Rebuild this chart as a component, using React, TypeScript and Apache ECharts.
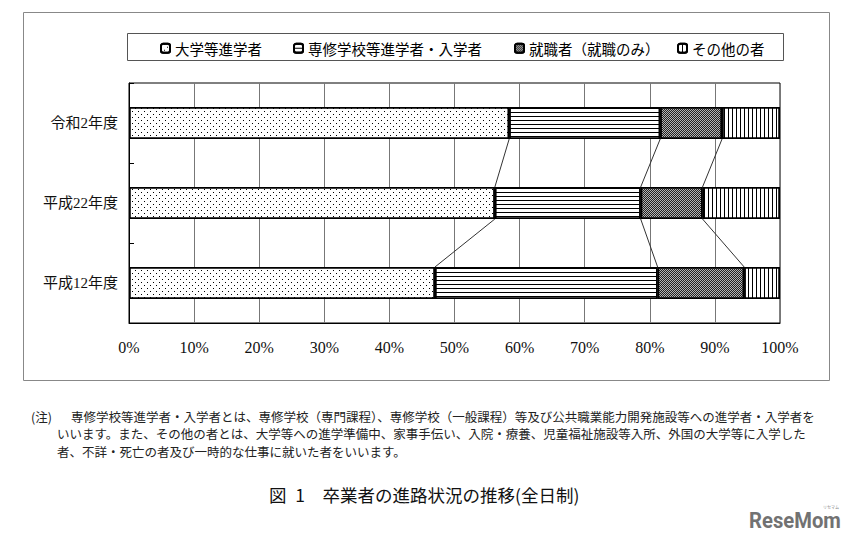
import React, { useEffect, useRef } from "react";
import * as echarts from "echarts";

const categories = ["令和2年度", "平成22年度", "平成12年度"];
const seriesNames = ["大学等進学者", "専修学校等進学者・入学者", "就職者（就職のみ）", "その他の者"];
const university = [58.4, 56.2, 47.0];
const vocational = [23.2, 22.4, 34.2];
const employed = [9.5, 9.5, 13.3];
const others = [8.9, 11.9, 5.5];
const xTickValues = [0, 10, 20, 30, 40, 50, 60, 70, 80, 90, 100];

const noteLabel = "(注)";
const noteLines = [
  "専修学校等進学者・入学者とは、専修学校（専門課程）、専修学校（一般課程）等及び公共職業能力開発施設等への進学者・入学者を",
  "いいます。また、その他の者とは、大学等への進学準備中、家事手伝い、入院・療養、児童福祉施設等入所、外国の大学等に入学した",
  "者、不詳・死亡の者及び一時的な仕事に就いた者をいいます。",
];
const titleText = "図\u20021　卒業者の進路状況の推移(全日制)";

const BAR_W = 32;
const CJK = '"Noto Sans CJK JP", "Noto Sans", sans-serif';
const SERIF_CJK = '"Liberation Serif", "DejaVu Serif", "Noto Sans CJK JP", serif';

const decals: any[] = [
  { symbol: "rect", symbolSize: 1, color: "#000", backgroundColor: "#fff", dashArrayX: [[1, 5], [0, 3, 1, 2]], dashArrayY: [1, 2] },
  { symbol: "rect", symbolSize: 1, color: "#000", backgroundColor: "#fff", dashArrayX: [1, 0], dashArrayY: [1, 3] },
  { symbol: "rect", symbolSize: 1, color: "#222", backgroundColor: "#b4b4b4", dashArrayX: [[1, 1], [0, 1, 1, 0]], dashArrayY: [1, 0] },
  { symbol: "rect", symbolSize: 1, color: "#000", backgroundColor: "#fff", dashArrayX: [1, 3], dashArrayY: [1, 0] },
];
const legendLefts = [155, 288, 509, 672];

export default function App() {
  const ref = useRef<HTMLDivElement>(null);
  useEffect(() => {
    if (!ref.current) return;
    const chart = echarts.init(ref.current, null, { renderer: "svg" });
    const valueSets = [university, vocational, employed, others];
    // cumulative boundaries for connector lines
    const cums = categories.map((_, i) => {
      let s = 0;
      return valueSets.map((vs) => (s += vs[i]));
    });
    const connectors: any[] = [];
    for (let i = 0; i < categories.length - 1; i++) {
      for (let k = 0; k < 3; k++) {
        connectors.push([cums[i][k], i, cums[i + 1][k], i + 1]);
      }
    }
    const barSeries = seriesNames.map((name, idx) => ({
      name,
      type: "bar",
      stack: "total",
      barWidth: BAR_W,
      data: valueSets[idx],
      itemStyle: {
        color: decals[idx].backgroundColor,
        borderColor: "#000",
        borderWidth: 1.5,
        decal: decals[idx],
      },
      emphasis: { disabled: true },
    }));
    chart.setOption({
      animation: false,
      backgroundColor: "#fff",
      legend: seriesNames.map((name, idx) => ({
        data: [name],
        left: legendLefts[idx],
        top: 36,
        itemWidth: 9,
        itemHeight: 9,
        selectedMode: false,
        textStyle: { fontSize: 14.5, fontFamily: CJK, color: "#000" },
      })),
      grid: { left: 129, top: 83, width: 651, height: 240, show: true, borderColor: "#000", borderWidth: 1 },
      xAxis: {
        type: "value",
        min: 0,
        max: 100,
        interval: 10,
        axisLine: { show: true, lineStyle: { color: "#000", width: 1 } },
        axisTick: { show: false },
        splitLine: { show: true, lineStyle: { color: "#777", width: 1 } },
        axisLabel: {
          formatter: (v: number) => (xTickValues.includes(v) ? v + "%" : ""),
          fontSize: 16,
          fontFamily: SERIF_CJK,
          color: "#111",
          margin: 16,
        },
      },
      yAxis: {
        type: "category",
        inverse: true,
        data: categories,
        axisLine: { show: true, lineStyle: { color: "#000", width: 1 } },
        axisTick: { show: true, inside: true, length: 5, lineStyle: { color: "#000" } },
        splitLine: { show: false },
        axisLabel: { fontSize: 15, fontFamily: SERIF_CJK, color: "#111", margin: 11 },
      },
      series: [
        ...barSeries,
        {
          type: "custom",
          name: "connectors",
          silent: true,
          clip: false,
          encode: { x: [0, 2], y: [1, 3] },
          data: connectors,
          renderItem: (params: any, api: any) => {
            const p1 = api.coord([api.value(0), api.value(1)]);
            const p2 = api.coord([api.value(2), api.value(3)]);
            const h = BAR_W / 2;
            return {
              type: "line",
              shape: { x1: p1[0], y1: p1[1] + h, x2: p2[0], y2: p2[1] - h },
              style: { stroke: "#333", lineWidth: 1 },
            };
          },
        },
      ],
      graphic: [
        { type: "rect", shape: { x: 23.5, y: 12.5, width: 806, height: 368 }, style: { fill: "none", stroke: "#888", lineWidth: 1 }, silent: true },
        { type: "rect", shape: { x: 127.5, y: 33.5, width: 656, height: 27 }, style: { fill: "none", stroke: "#555", lineWidth: 1 }, silent: true },
        { type: "text", x: 31, y: 416, style: { text: noteLabel, fontSize: 12.5, fontFamily: CJK, fill: "#222", verticalAlign: "middle" } },
        ...noteLines.map((t, i) => ({
          type: "text",
          x: i === 0 ? 71 : 57,
          y: 416 + i * 17.6,
          style: { text: t, fontSize: 12.5, fontFamily: CJK, fill: "#222", verticalAlign: "middle" },
        })),
        { type: "text", x: 269, y: 494, style: { text: titleText, fontSize: 17.5, fontFamily: CJK, fill: "#111", verticalAlign: "middle" } },
        { type: "text", x: 749, y: 520, scaleX: 0.92, style: { text: "ReseMom", fontSize: 22, fontWeight: "bold", fontFamily: "Roboto, sans-serif", fill: "#727272", verticalAlign: "middle" } },
        { type: "text", x: 823, y: 507, style: { text: "リセマム", fontSize: 4, fontFamily: CJK, fill: "#888", verticalAlign: "middle" } },
      ],
    });
    return () => chart.dispose();
  }, []);
  return <div ref={ref} style={{ position: "fixed", left: 0, top: 0, width: 855, height: 535 }} />;
}
